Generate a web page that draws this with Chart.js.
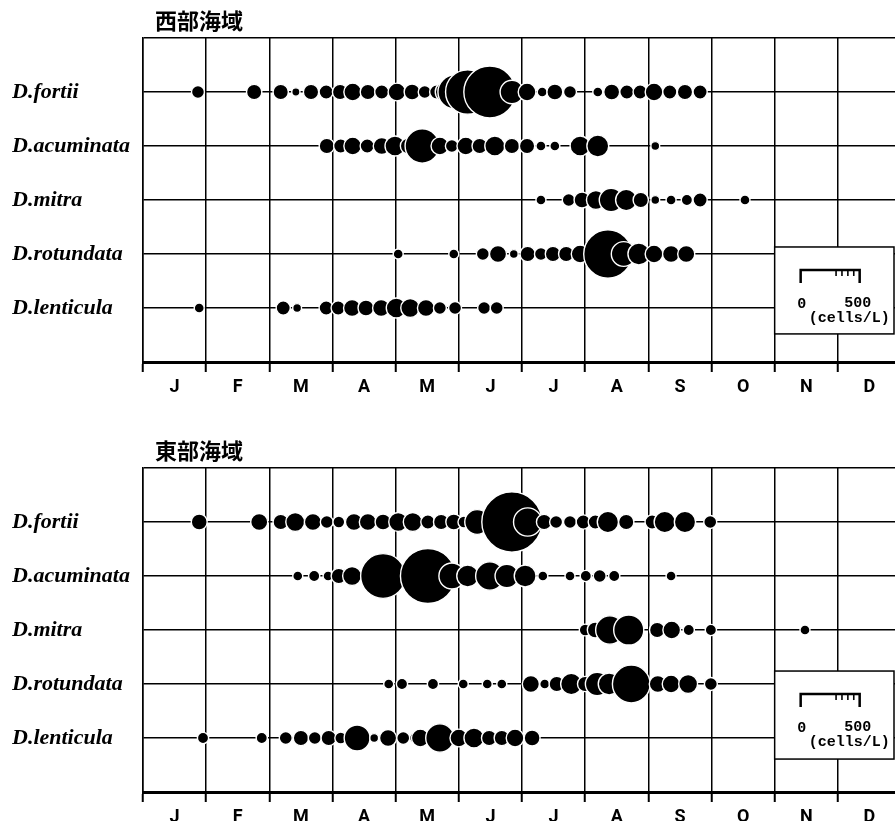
<!DOCTYPE html>
<html lang="ja">
<head>
  <meta charset="UTF-8">
  <title>Dinophysis 出現状況</title>
  <script src="https://cdn.jsdelivr.net/npm/chart.js"></script>
  <style>
    html, body { margin: 0; padding: 0; background: #fff; overflow: hidden; }
    #wrap { width: 910px; }
    canvas { display: block; }
  </style>
</head>
<body>
  <div id="wrap">
    <canvas id="west" width="910" height="430" style="width:910px;height:430px"></canvas>
    <canvas id="east" width="910" height="391" style="width:910px;height:391px"></canvas>
  </div>

  <script>
    const months = ['J', 'F', 'M', 'A', 'M', 'J', 'J', 'A', 'S', 'O', 'N', 'D'];
    const species = ['D.fortii', 'D.acuminata', 'D.mitra', 'D.rotundata', 'D.lenticula'];

    // [月 (0 = 1月1日, 12 = 12月31日), 細胞密度 cells/L]
    const westFortii = [[0.87,110],[1.76,130],[2.18,130],[2.42,70],[2.66,130],[2.90,120],[3.12,130],[3.32,150],[3.56,130],[3.78,120],[4.02,150],[4.26,135],[4.46,110],[4.65,120],[4.80,185],[4.94,290],[5.14,375],[5.49,440],[5.84,200],[6.08,150],[6.32,85],[6.52,135],[6.76,110],[7.20,85],[7.42,135],[7.66,120],[7.87,120],[8.09,150],[8.34,120],[8.58,130],[8.82,120]];
    const westAcuminata = [[2.91,130],[3.13,120],[3.32,150],[3.55,120],[3.78,145],[3.99,170],[4.20,135],[4.42,290],[4.70,150],[4.89,110],[5.11,150],[5.33,130],[5.57,170],[5.84,130],[6.08,130],[6.30,85],[6.52,85],[6.92,170],[7.20,185],[8.11,75]];
    const westMitra = [[6.30,85],[6.74,110],[6.95,135],[7.17,160],[7.41,200],[7.65,180],[7.88,130],[8.11,75],[8.36,85],[8.61,95],[8.82,120],[9.53,85]];
    const westRotundata = [[4.04,85],[4.92,85],[5.38,110],[5.62,145],[5.87,75],[6.09,130],[6.30,110],[6.49,130],[6.70,130],[6.92,150],[7.36,410],[7.61,210],[7.85,185],[8.09,150],[8.36,145],[8.60,145]];
    const westLenticula = [[0.89,85],[2.22,120],[2.44,75],[2.90,120],[3.09,120],[3.31,145],[3.53,135],[3.77,145],[4.01,170],[4.23,160],[4.48,145],[4.70,110],[4.94,110],[5.40,110],[5.60,110]];

    const eastFortii = [[0.89,135],[1.84,145],[2.18,130],[2.41,160],[2.69,145],[2.91,110],[3.10,100],[3.34,145],[3.56,145],[3.80,135],[4.04,160],[4.27,160],[4.51,120],[4.72,130],[4.92,135],[5.08,100],[5.29,210],[5.84,510],[6.09,240],[6.35,130],[6.54,110],[6.76,110],[6.97,120],[7.16,120],[7.36,180],[7.65,130],[8.06,120],[8.26,180],[8.58,180],[8.98,110]];
    const eastAcuminata = [[2.45,85],[2.71,95],[2.93,85],[3.10,130],[3.31,160],[3.80,380],[4.51,465],[4.89,220],[5.14,185],[5.49,240],[5.76,200],[6.05,185],[6.33,85],[6.76,85],[7.01,95],[7.23,110],[7.46,95],[8.36,85]];
    const eastMitra = [[7.00,100],[7.16,135],[7.39,240],[7.69,255],[8.14,130],[8.37,150],[8.64,95],[8.99,95],[10.48,85]];
    const eastRotundata = [[3.89,85],[4.10,95],[4.59,95],[5.07,85],[5.45,85],[5.68,85],[6.14,145],[6.36,85],[6.55,130],[6.78,180],[7.00,130],[7.19,200],[7.38,185],[7.73,320],[8.15,145],[8.36,150],[8.63,160],[8.99,110]];
    const eastLenticula = [[0.95,95],[1.88,95],[2.26,110],[2.50,130],[2.72,110],[2.94,130],[3.13,100],[3.39,220],[3.66,75],[3.88,145],[4.12,110],[4.31,95],[4.39,150],[4.70,240],[5.00,150],[5.24,170],[5.48,130],[5.68,130],[5.89,150],[6.16,135]];

    const scaleMax = 500;        // 凡例の目盛り 0–500 cells/L
    const scaleLen = 59;         // その長さ (px) = 円の直径
    const rPerCell = scaleLen / scaleMax / 2;

    const panelPlugin = {
      id: 'panel',
      afterDraw(chart, args, opts) {
        const ctx = chart.ctx;
        const area = chart.chartArea;
        const xs = chart.scales.x, ys = chart.scales.y;
        ctx.save();
        // 見出し
        ctx.fillStyle = '#000';
        ctx.font = 'bold 22px "Noto Sans CJK JP"';
        ctx.textBaseline = 'middle';
        ctx.textAlign = 'left';
        ctx.fillText(opts.title, area.left + 12, area.top - 17);

        // 凡例の枠
        const left = xs.getPixelForValue(10);
        const right = 894;
        const top = ys.getPixelForValue(opts.boxTop);
        const bottom = ys.getPixelForValue(opts.boxBottom);
        ctx.fillStyle = '#fff';
        ctx.fillRect(left, top, right - left, bottom - top);
        ctx.strokeStyle = '#000';
        ctx.lineWidth = 1.5;
        ctx.strokeRect(left, top, right - left, bottom - top);

        // 目盛り
        const x0 = left + 26;
        const yb = top + 23;
        const px = v => x0 + v / scaleMax * scaleLen;
        ctx.lineWidth = 2.5;
        ctx.beginPath();
        ctx.moveTo(px(0), yb + 13);
        ctx.lineTo(px(0), yb);
        ctx.lineTo(px(scaleMax), yb);
        ctx.lineTo(px(scaleMax), yb + 13);
        ctx.stroke();
        ctx.lineWidth = 1.6;
        [300, 350, 400, 450].forEach(v => {
          ctx.beginPath();
          ctx.moveTo(px(v), yb);
          ctx.lineTo(px(v), yb + 6);
          ctx.stroke();
        });
        ctx.fillStyle = '#000';
        ctx.font = 'bold 15px "Liberation Mono"';
        ctx.textAlign = 'center';
        ctx.fillText('0', px(0) + 1, top + 57);
        ctx.fillText('500', px(scaleMax) - 2, top + 56);
        ctx.textAlign = 'left';
        ctx.fillText('(cells/L)', x0 + 8, top + 71);
        ctx.restore();
      }
    };

    function makeChart(id, title, rows, boxTop, boxBottom, padBottom) {
      const datasets = rows.map((row, i) => ({
        label: species[i],
        data: row.map(([m, v]) => ({ x: m, y: 5 - i, r: v * rPerCell })),
        backgroundColor: '#000',
        borderColor: '#fff',
        borderWidth: 1.4
      }));

      return new Chart(document.getElementById(id), {
        type: 'bubble',
        data: { datasets },
        plugins: [panelPlugin],
        options: {
          responsive: false,
          animation: false,
          events: [],
          layout: { autoPadding: false, padding: { left: 12, top: 38, right: 9, bottom: padBottom } },
          plugins: {
            legend: { display: false },
            tooltip: { enabled: false },
            panel: { title, boxTop, boxBottom }
          },
          scales: {
            x: {
              type: 'linear',
              min: 0,
              max: 12,
              afterBuildTicks: s => { s.ticks = months.map((_, i) => ({ value: i + 0.5 })); },
              afterFit: s => { s.height = 40; },
              ticks: {
                autoSkip: false,
                maxRotation: 0,
                padding: 5,
                color: '#000',
                font: { family: 'Roboto', size: 18, weight: 'bold' },
                callback: (v, i) => months[i]
              },
              grid: { offset: true, color: '#000', lineWidth: 1.5, tickLength: 10, tickColor: '#000', tickWidth: 2 },
              border: { color: '#000', width: 3 }
            },
            y: {
              type: 'linear',
              min: 0,
              max: 6,
              afterBuildTicks: s => { s.ticks = [0, 1, 2, 3, 4, 5, 6].map(v => ({ value: v })); },
              afterFit: s => { s.width = 131; },
              ticks: {
                autoSkip: false,
                crossAlign: 'far',
                color: '#000',
                font: { family: '"Liberation Serif"', size: 22, style: 'italic', weight: 'bold' },
                callback: v => (v >= 1 && v <= 5) ? species[5 - v] : ''
              },
              grid: { color: '#000', lineWidth: 1.5, drawTicks: false },
              border: { color: '#000', width: 1.5 }
            }
          }
        }
      });
    }

    makeChart('west', '西部海域',
      [westFortii, westAcuminata, westMitra, westRotundata, westLenticula], 2.13, 0.52, 28);
    makeChart('east', '東部海域',
      [eastFortii, eastAcuminata, eastMitra, eastRotundata, eastLenticula], 2.24, 0.61, -11);
  </script>
</body>
</html>
